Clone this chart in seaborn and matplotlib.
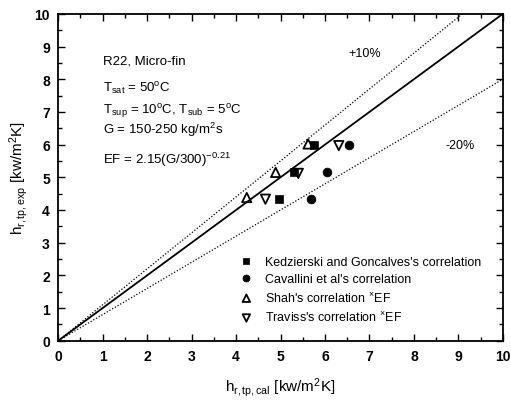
import matplotlib
matplotlib.use("Agg")
import matplotlib.pyplot as plt
import seaborn as sns
import numpy as np
import pandas as pd
from matplotlib.ticker import MultipleLocator

sns.set_style("ticks")
plt.rcParams['font.family'] = ['Liberation Sans', 'DejaVu Sans']
plt.rcParams['mathtext.fontset'] = 'custom'
plt.rcParams['mathtext.rm'] = 'Liberation Sans'
plt.rcParams['mathtext.it'] = 'Liberation Sans'
plt.rcParams['text.color'] = 'black'
plt.rcParams['axes.labelcolor'] = 'black'
plt.rcParams['xtick.color'] = 'black'
plt.rcParams['ytick.color'] = 'black'

# Data (h_cal, h_exp)
kedz_x = [4.96, 5.31, 5.76]
kedz_y = [4.35, 5.15, 6.0]
cav_x = [5.69, 6.05, 6.54]
cav_y = [4.35, 5.15, 6.0]
shah_x = [4.24, 4.89, 5.62]
shah_y = [4.38, 5.15, 6.02]
trav_x = [4.66, 5.40, 6.31]
trav_y = [4.33, 5.12, 5.97]

ref_x = [0, 10]
ratios = {"+10%": 1.1, "0": 1.0, "-20%": 0.8}

fig = plt.figure(figsize=(5.11, 4.02), dpi=100)
ax = fig.add_axes([0.114, 0.150, 0.870, 0.813])

# reference lines
sns.lineplot(x=ref_x, y=[v * ratios["0"] for v in ref_x], ax=ax, color='black', lw=1.3)
sns.lineplot(x=ref_x, y=[v * ratios["+10%"] for v in ref_x], ax=ax, color='black', lw=0.9, ls=(0, (1, 1.5)))
sns.lineplot(x=ref_x, y=[v * ratios["-20%"] for v in ref_x], ax=ax, color='black', lw=0.9, ls=(0, (1, 1.5)))

sns.scatterplot(x=kedz_x, y=kedz_y, ax=ax, marker='s', s=38, color='black', edgecolor='black',
                label="Kedzierski and Goncalves's correlation", zorder=3)
sns.scatterplot(x=cav_x, y=cav_y, ax=ax, marker='o', s=40, color='black', edgecolor='black',
                label="Cavallini et al's correlation", zorder=3)
sns.scatterplot(x=shah_x, y=shah_y, ax=ax, marker='^', s=45, facecolor='none', edgecolor='black',
                linewidth=1.3, label="Shah's correlation $^{\\times}$EF", zorder=3)
sns.scatterplot(x=trav_x, y=trav_y, ax=ax, marker='v', s=45, facecolor='none', edgecolor='black',
                linewidth=1.3, label="Traviss's correlation $^{\\times}$EF", zorder=3)

ax.set_xlim(0, 10)
ax.set_ylim(0, 10)
ax.xaxis.set_major_locator(MultipleLocator(1))
ax.yaxis.set_major_locator(MultipleLocator(1))
ax.xaxis.set_minor_locator(MultipleLocator(0.5))
ax.yaxis.set_minor_locator(MultipleLocator(0.5))
ax.tick_params(which='both', direction='in', top=True, right=True, width=1.0, colors='black')
ax.tick_params(which='major', length=5, labelsize=10, pad=6)
ax.tick_params(which='minor', length=3)
for lab in ax.get_xticklabels() + ax.get_yticklabels():
    lab.set_fontweight('bold')
for sp in ax.spines.values():
    sp.set_linewidth(1.3)
    sp.set_color('black')

ax.set_xlabel("h$_{\\mathregular{r,tp,cal}}$ [kw/m$^{\\mathregular{2}}$K]", fontsize=11, labelpad=9)
ax.set_ylabel("h$_{\\mathregular{r,tp,exp}}$ [kw/m$^{\\mathregular{2}}$K]", fontsize=11, labelpad=3)

fs = 9.5
ax.text(1.0, 8.56, "R22, Micro-fin", fontsize=fs, va='center')
ax.text(1.0, 7.72, "T$_{\\mathregular{sat}}$ = 50$^{\\mathregular{o}}$C", fontsize=fs, va='center')
ax.text(1.0, 7.06, "T$_{\\mathregular{sup}}$ = 10$^{\\mathregular{o}}$C, T$_{\\mathregular{sub}}$ = 5$^{\\mathregular{o}}$C",
        fontsize=fs, va='center')
ax.text(1.0, 6.48, "G = 150-250 kg/m$^{\\mathregular{2}}$s", fontsize=fs, va='center')
ax.text(1.0, 5.57, "EF = 2.15(G/300)$^{\\mathregular{-0.21}}$", fontsize=fs, va='center')
ax.text(6.9, 8.8, "+10%", fontsize=9, ha='center', va='center')
ax.text(9.04, 6.0, "-20%", fontsize=9, ha='center', va='center')

leg = ax.legend(loc='lower left', bbox_to_anchor=(0.395, 0.035), frameon=False, fontsize=9,
                handletextpad=0.9, labelspacing=0.42, borderaxespad=0, handlelength=1.2,
                markerscale=0.8)
for t in leg.get_texts():
    t.set_color('black')

fig.savefig("out.png", dpi=100)
